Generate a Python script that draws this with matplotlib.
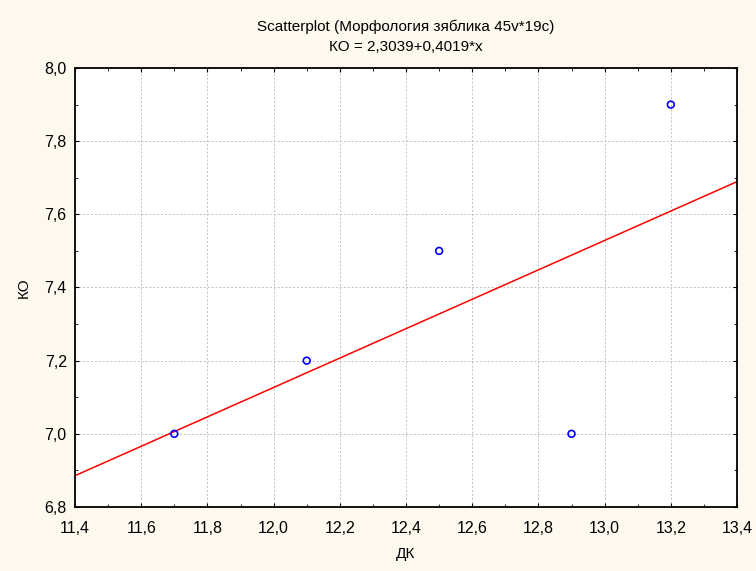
import matplotlib
matplotlib.use("Agg")
import matplotlib.pyplot as plt
from matplotlib.ticker import FuncFormatter, MultipleLocator
import numpy as np

plt.rcParams["font.family"] = ["Liberation Sans", "DejaVu Sans"]

# Morphology data: DK vs KO
dk = [11.7, 12.1, 12.5, 12.9, 13.2]
ko = [7.0, 7.2, 7.5, 7.0, 7.9]
intercept = 2.3039
slope = 0.4019

x_lim = (11.4, 13.4)
y_lim = (6.8, 8.0)

bg = "#fdf9ef"
fig = plt.figure(figsize=(7.56, 5.71), dpi=100, facecolor=bg)
ax = fig.add_axes([0.0992, 0.1121, 0.8757, 0.7688])
ax.set_facecolor("white")

xs = np.array(x_lim)
ax.plot(xs, intercept + slope * xs, color="red", linewidth=1.1, zorder=2)
ax.scatter(dk, ko, s=24, facecolors="none", edgecolors="blue", linewidths=1.2, zorder=3)

ax.set_xlim(*x_lim)
ax.set_ylim(*y_lim)
ax.xaxis.set_major_locator(MultipleLocator(0.2))
ax.xaxis.set_minor_locator(MultipleLocator(0.1))
ax.yaxis.set_major_locator(MultipleLocator(0.2))
ax.yaxis.set_minor_locator(MultipleLocator(0.1))

comma = FuncFormatter(lambda v, p: f"{v:.1f}".replace(".", ","))
ax.xaxis.set_major_formatter(comma)
ax.yaxis.set_major_formatter(comma)

ax.grid(True, which="major", color="#c0c0c0", linestyle=(0, (2, 2)), linewidth=0.7)
ax.tick_params(which="both", direction="in", labelsize=11.5, top=True, right=True)
ax.tick_params(which="major", length=3)
ax.tick_params(which="minor", length=2)
ax.tick_params(axis="x", which="major", pad=10)
ax.tick_params(axis="y", which="major", pad=6)
for sp in ax.spines.values():
    sp.set_linewidth(1.3)

ax.set_xlabel("ДК", fontsize=11, labelpad=8)
ax.set_ylabel("КО", fontsize=11, labelpad=10)
ax.set_title("Scatterplot (Морфология зяблика 45v*19c)\nКО = 2,3039+0,4019*x",
             fontsize=11, pad=12, linespacing=1.55)

fig.savefig("out.png", dpi=100, facecolor=bg)
